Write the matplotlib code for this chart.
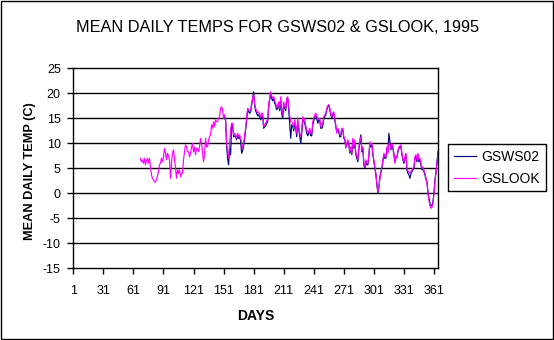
import matplotlib
matplotlib.use('Agg')
import matplotlib.pyplot as plt
import numpy as np
from matplotlib.patches import Rectangle

plt.rcParams['font.family'] = ['Liberation Sans', 'DejaVu Sans']
plt.rcParams['axes.unicode_minus'] = False

# GSLOOK mean daily temps, days 68..365
look_start = 68
gslook = [
    7.0, 6.3, 6.7, 6.0, 7.0, 5.7, 6.5, 7.0, 6.0, 7.0,
    5.3, 3.7, 3.0, 2.7, 2.3, 2.2, 2.7, 3.5, 4.3, 5.7,
    6.0, 7.0, 6.3, 7.3, 9.0, 8.0, 6.7, 8.0, 7.5, 6.7,
    3.0, 6.0, 8.0, 8.7, 7.0, 5.0, 3.0, 4.7, 4.0, 4.7,
    3.3, 4.0, 4.0, 6.7, 8.3, 9.7, 9.3, 8.3, 8.3, 7.3,
    8.0, 9.3, 10.0, 8.3, 9.3, 7.7, 9.0, 9.0, 8.3, 9.3,
    11.0, 10.0, 8.3, 6.3, 7.7, 11.0, 9.3, 9.3, 10.7, 11.3,
    11.7, 13.7, 13.0, 14.3, 13.3, 14.7, 14.3, 14.3, 15.0, 15.3,
    17.0, 17.3, 16.7, 15.0, 15.7, 14.7, 10.3, 8.3, 7.0, 10.0,
    12.7, 14.0, 14.0, 11.7, 12.0, 11.7, 11.0, 12.0, 11.5, 11.7,
    11.0, 10.0, 9.0, 10.0, 11.5, 13.0, 15.0, 17.0, 16.7, 16.5,
    16.7, 18.0, 19.0, 19.7, 18.0, 17.0, 16.5, 16.0, 16.3, 15.8,
    15.3, 16.0, 16.0, 13.3, 13.8, 14.0, 14.5, 14.7, 17.7, 19.0,
    20.3, 19.5, 19.0, 19.3, 18.5, 18.0, 17.3, 17.3, 18.3, 17.0,
    19.3, 16.7, 15.7, 18.3, 17.3, 17.0, 19.0, 19.3, 17.3, 15.5,
    14.3, 14.3, 14.0, 13.0, 14.7, 13.5, 12.0, 15.0, 13.3, 12.0,
    11.3, 12.5, 15.3, 15.0, 14.7, 13.5, 12.7, 12.0, 12.5, 13.0,
    12.0, 12.0, 14.3, 15.0, 15.7, 16.0, 15.7, 14.7, 15.0, 15.0,
    13.3, 14.0, 14.0, 15.3, 15.7, 16.0, 17.0, 17.5, 17.7, 17.0,
    16.0, 15.3, 16.0, 16.3, 15.0, 13.7, 12.0, 13.0, 12.7, 11.7,
    11.7, 13.0, 13.0, 11.3, 11.0, 9.0, 10.0, 10.7, 10.0, 8.3,
    9.3, 8.0, 11.0, 9.3, 10.7, 8.0, 7.5, 6.7, 9.3, 10.7,
    11.3, 8.7, 9.3, 6.0, 5.3, 6.7, 6.0, 6.0, 7.7, 10.3,
    9.7, 10.0, 8.0, 6.7, 5.3, 4.0, 2.0, 0.3, 1.0, 3.0,
    4.0, 5.3, 6.5, 8.0, 7.3, 7.3, 9.3, 8.0, 10.0, 9.7,
    9.0, 10.0, 9.3, 8.0, 6.0, 7.5, 7.0, 8.5, 9.3, 9.5,
    9.7, 8.0, 7.0, 6.3, 7.3, 8.0, 5.0, 4.5, 4.3, 4.0,
    4.3, 4.7, 5.0, 5.3, 7.3, 7.7, 6.7, 8.0, 6.7, 7.0,
    6.0, 5.0, 5.3, 4.5, 4.0, 3.0, 2.0, 0.0, -1.5, -2.5,
    -3.0, -2.8, -2.0, 0.0, 2.5, 4.0, 6.0, 8.0,
]

# GSWS02 mean daily temps, days 152..365
ws_start = 152
gsws02 = [
    15.3, 14.5, 9.5, 7.0, 5.7, 9.0,
    7.7, 13.5, 13.7, 11.3, 11.5, 11.3, 10.7, 11.5, 11.0, 11.3,
    10.5, 8.0, 8.5, 9.5, 11.0, 12.7, 14.7, 16.7, 16.3, 16.0,
    16.3, 17.7, 19.0, 20.3, 17.5, 16.5, 16.0, 15.5, 15.7, 15.3,
    14.7, 15.3, 15.5, 13.0, 13.3, 13.5, 14.0, 14.3, 17.3, 18.7,
    20.0, 19.0, 18.5, 19.0, 18.0, 17.5, 16.7, 17.0, 18.0, 16.5,
    18.7, 16.0, 15.0, 17.7, 17.0, 16.5, 18.7, 19.0, 16.7, 14.0,
    11.0, 13.7, 13.5, 12.5, 14.0, 13.0, 11.3, 14.3, 12.7, 11.5,
    10.0, 12.0, 14.7, 14.5, 14.0, 13.0, 12.0, 11.5, 12.0, 12.5,
    11.5, 11.5, 13.7, 14.5, 15.3, 15.5, 15.0, 14.0, 14.7, 14.5,
    13.0, 13.0, 13.5, 15.0, 15.3, 15.7, 16.7, 17.3, 17.7, 16.7,
    15.7, 15.0, 15.7, 16.0, 14.7, 13.3, 12.3, 12.7, 12.3, 11.3,
    11.3, 12.7, 12.7, 11.0, 10.7, 9.3, 9.7, 10.3, 9.7, 8.0,
    9.0, 7.7, 10.7, 9.0, 10.3, 7.7, 7.0, 6.3, 8.7, 10.3,
    11.7, 8.3, 9.0, 5.7, 5.0, 6.3, 5.7, 5.7, 7.3, 10.0,
    9.3, 9.7, 7.7, 6.3, 5.0, 3.7, 1.7, 0.0, 1.3, 3.3,
    4.3, 5.0, 6.3, 7.7, 7.0, 7.0, 9.0, 8.3, 12.0, 10.3,
    8.7, 9.7, 9.0, 7.7, 6.3, 7.3, 7.3, 8.3, 9.0, 9.3,
    9.3, 7.7, 6.7, 6.0, 7.0, 7.7, 4.7, 4.0, 3.7, 3.0,
    4.0, 4.3, 4.7, 5.0, 7.0, 7.3, 6.3, 7.7, 6.3, 6.7,
    5.7, 4.7, 5.0, 4.3, 3.7, 2.7, 2.3, 0.3, -1.0, -2.0,
    -2.5, -2.5, -1.7, 0.3, 2.7, 4.3, 6.3, 8.3,
]

day_ticks = [1, 31, 61, 91, 121, 151, 181, 211, 241, 271, 301, 331, 361]
y_ticks = [-15, -10, -5, 0, 5, 10, 15, 20, 25]

look_days = np.arange(look_start, look_start + len(gslook))
ws_days = np.arange(ws_start, ws_start + len(gsws02))

W, H = 554, 340
fig = plt.figure(figsize=(W / 100, H / 100), dpi=100)
ax = fig.add_axes([73.3 / W, 1 - 268.3 / H, 364.7 / W, 200 / H])

ax.plot(ws_days, gsws02, color='#000080', lw=0.85, label='GSWS02')
ax.plot(look_days, gslook, color='#FF00FF', lw=0.85, label='GSLOOK')

ax.set_xlim(1, 365)
ax.set_ylim(-15, 25)
ax.set_xticks(day_ticks)
ax.set_yticks(y_ticks)
ax.tick_params(direction='out', length=4, width=1, color='black', labelsize=9)
ax.tick_params(axis='x', pad=8)
ax.tick_params(axis='y', pad=5)
for v in y_ticks[1:-1]:
    ax.axhline(v, color='black', lw=1, zorder=0)
for s in ax.spines.values():
    s.set_color('black')
    s.set_linewidth(1)

fig.text(0.5, 1 - 27 / H, 'MEAN DAILY TEMPS FOR GSWS02 & GSLOOK, 1995',
         fontsize=11.7, ha='center', va='center')
fig.text(255.6 / W, 1 - 315.5 / H, 'DAYS', fontsize=10, fontweight='bold',
         ha='center', va='center')
fig.text(30 / W, 1 - 171 / H, 'MEAN DAILY TEMP (C)', fontsize=9.2,
         fontweight='bold', rotation=90, ha='center', va='center')

leg = fig.legend(loc='upper left', bbox_to_anchor=(448 / W, 1 - 144 / H),
                 fontsize=10, frameon=True, fancybox=False, framealpha=1,
                 edgecolor='black', handlelength=1.65, handletextpad=0.36,
                 borderpad=0.4, labelspacing=0.6, borderaxespad=0)
leg.get_frame().set_linewidth(1)

fig.patches.append(Rectangle((0.001, 0.002), 0.997, 0.996, transform=fig.transFigure,
                             fill=False, edgecolor='black', lw=1))

fig.savefig('out.png', dpi=100)
